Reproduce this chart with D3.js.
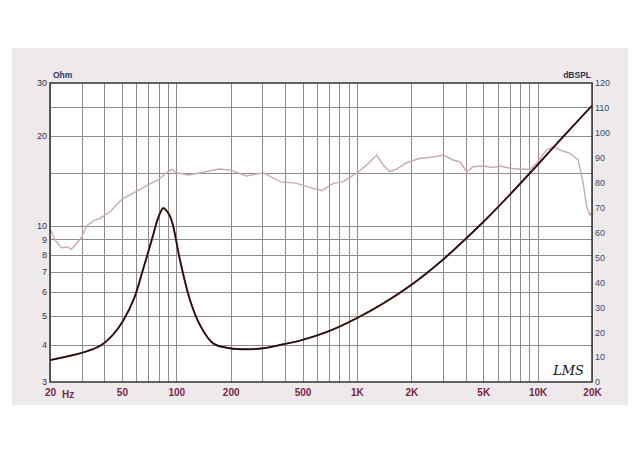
<!DOCTYPE html>
<html><head><meta charset="utf-8">
<script src="https://cdn.jsdelivr.net/npm/d3@7"></script>
<style>body{margin:0;background:#fff}svg{display:block}</style>
</head><body><svg id="c" width="640" height="452"></svg>
<script>
// ---- data ----
const splFreq = [20,21.3,23.2,24.7,26.3,28.1,29.9,31.9,34.8,37.8,43,49.9,58.4,69.6,80.2,86.6,94.3,100.5,116.6,141,171,198,245,303,375,464,549,638,739,840,996,1131,1285,1398,1523,1659,1884,2232,2590,3003,3412,3716,4046,4402,5000,5679,6186,7026,7980,9068,9872,11218,12202,13288,15092,16774,17882,18672,19472,20000];
const splDb = [61.8,57,53.8,54.3,53.3,55.7,58,62.6,64.7,65.7,68.3,73.3,76,79,81.4,83.5,85.4,84,83.1,84.2,85.5,85.1,82.7,84,80.4,79.7,78.1,76.8,79.7,80.4,83.8,87.1,91.1,87.1,84.4,85.4,88,89.8,90.2,91.1,89.1,88.4,84.4,86.4,86.7,86.1,86.7,85.8,85.4,85.4,87.8,93.1,94.4,93.1,91.8,89.1,79.7,70.4,67,68];
const impFreq = [20,24.7,30.6,37.8,44.8,50.9,58.4,65.7,74.6,78,81.5,84.7,88,92,96,104.8,119.1,135.3,160,198,245,303,375,500,700,1000,1400,2000,3000,5000,7000,10000,14000,20000];
const impOhm = [3.55,3.65,3.77,3.96,4.33,4.82,5.71,7.19,9.34,10.3,11.05,11.45,11.25,10.8,10.0,7.68,5.64,4.65,4.04,3.89,3.86,3.89,3.99,4.15,4.44,4.91,5.50,6.34,7.71,10.28,12.67,15.99,19.99,25.2];
const xGrid = [20,30,40,50,60,70,80,90,100,200,300,400,500,600,700,800,900,1000,2000,3000,4000,5000,6000,7000,8000,9000,10000,20000];
const xTickVals = [20,50,100,200,500,1000,2000,5000,10000,20000];
const xTickLabels = ["20","50","100","200","500","1K","2K","5K","10K","20K"];
const ohmGrid = [4,5,6,7,8,9,10,15,20,25];
const ohmTicks = [3,4,5,6,7,8,9,10,20,30];
const dbTicks = [0,10,20,30,40,50,60,70,80,90,100,110,120];

// ---- chart ----
const svg = d3.select("#c");
const L=50,R=592,T=83,B=382;
const x = d3.scaleLog().domain([20,20000]).range([L,R]);
const yL = d3.scaleLog().domain([3,30]).range([B,T]);
const yR = d3.scaleLinear().domain([0,120]).range([B,T]);

svg.append("rect").attr("x",12).attr("y",48).attr("width",616).attr("height",357).attr("fill","#eeeaec");
svg.append("rect").attr("x",L).attr("y",T).attr("width",R-L).attr("height",B-T).attr("fill","#fff");

const g = svg.append("g");
g.selectAll("line.vg").data(xGrid).join("line")
  .attr("x1",d=>Math.round(x(d))+0.5).attr("x2",d=>Math.round(x(d))+0.5)
  .attr("y1",T).attr("y2",B).attr("stroke","#8c8c8c").attr("stroke-width",1);
g.selectAll("line.hg").data(ohmGrid).join("line")
  .attr("y1",d=>Math.round(yL(d))+0.5).attr("y2",d=>Math.round(yL(d))+0.5)
  .attr("x1",L).attr("x2",R).attr("stroke","#8c8c8c").attr("stroke-width",1);

// curves
const splLine = d3.line().x((d,i)=>x(splFreq[i])).y(d=>yR(d));
svg.append("path").datum(splDb).attr("d",splLine).attr("fill","none")
  .attr("stroke","#c9a9b2").attr("stroke-width",1.4);
const impLine = d3.line().x((d,i)=>x(impFreq[i])).y(d=>yL(d)).curve(d3.curveCatmullRom.alpha(0.5));
svg.append("path").datum(impOhm).attr("d",impLine).attr("fill","none")
  .attr("stroke","#8a3030").attr("stroke-width",2.0);
svg.append("path").datum(impOhm).attr("d",impLine).attr("fill","none")
  .attr("stroke","#111").attr("stroke-width",1.3);

// border
svg.append("rect").attr("x",L).attr("y",T).attr("width",R-L).attr("height",B-T)
  .attr("fill","none").attr("stroke","#333").attr("stroke-width",1.5);

// axes
const font = "Liberation Sans, Arial, sans-serif";
const ax = svg.append("g").attr("transform",`translate(0,${B})`)
  .call(d3.axisBottom(x).tickValues(xTickVals).tickSize(0).tickPadding(7)
  .tickFormat((d,i)=>xTickLabels[i]));
ax.select(".domain").remove();
ax.selectAll("text").attr("font-family",font).attr("font-size",10).attr("fill","#7a2548").attr("font-weight","bold");
svg.append("text").attr("x",x(20)+12).attr("y",B+16).text("Hz")
  .attr("font-family",font).attr("font-size",10).attr("fill","#7a2548").attr("font-weight","bold");

const al = svg.append("g").attr("transform",`translate(${L},0)`)
  .call(d3.axisLeft(yL).tickValues(ohmTicks).tickSize(0).tickPadding(3).tickFormat(d3.format("d")));
al.select(".domain").remove();
al.selectAll("text").attr("font-family",font).attr("font-size",9).attr("fill","#2b3553");

const ar = svg.append("g").attr("transform",`translate(${R},0)`)
  .call(d3.axisRight(yR).tickValues(dbTicks).tickSize(0).tickPadding(3));
ar.select(".domain").remove();
ar.selectAll("text").attr("font-family",font).attr("font-size",9).attr("fill","#3a4a70");

svg.append("text").attr("x",L+3).attr("y",T-5).text("Ohm")
  .attr("font-family",font).attr("font-size",8.5).attr("fill","#2b3553").attr("font-weight","bold");
svg.append("text").attr("x",R-1).attr("y",T-5).attr("text-anchor","end").text("dBSPL")
  .attr("font-family",font).attr("font-size",8.5).attr("fill","#2b3553").attr("font-weight","bold");

svg.append("text").attr("x",R-8).attr("y",B-7).attr("text-anchor","end").text("LMS")
  .attr("font-family","DejaVu Serif, serif").attr("font-style","italic").attr("font-size",13).attr("fill","#111");
</script></body></html>
